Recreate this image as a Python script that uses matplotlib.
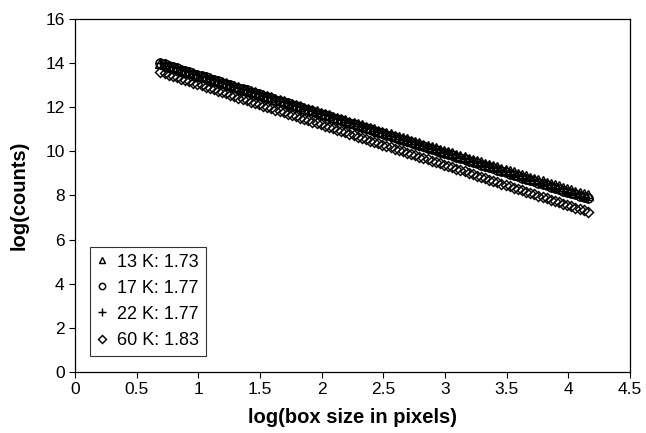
import matplotlib.pyplot as plt
import numpy as np

plt.rcParams['font.family'] = ['Liberation Sans', 'DejaVu Sans']

# box-counting fits: log(counts) = intercept - dimension * log(box size)
temps = ["13 K", "17 K", "22 K", "60 K"]
dimensions = [1.73, 1.77, 1.77, 1.83]
intercepts = [15.20, 15.23, 15.23, 14.87]
markers = ["^", "o", "+", "D"]
marker_sizes = [6.5, 6.5, 7.5, 5.2]

# box sizes from 2 to 64 pixels, 105 sizes on a log grid
box_min, box_max, n_boxes = 2, 64, 105
log_box = np.linspace(np.log(box_min), np.log(box_max), n_boxes)

fig = plt.figure(figsize=(6.46, 4.33), dpi=100)
ax = fig.add_axes([0.116, 0.141, 0.859, 0.815])

for t, d, b, m, ms in zip(temps, dimensions, intercepts, markers, marker_sizes):
    y = b - d * log_box
    ax.plot(log_box, y, linestyle="none", marker=m, markersize=ms,
            markerfacecolor="none", markeredgecolor="black",
            markeredgewidth=1.05, color="black", label=f"{t}: {d:.2f}")

ax.set_xlim(0, 4.5)
ax.set_ylim(0, 16)
ax.set_xticks(np.arange(0, 4.51, 0.5))
ax.set_xticklabels(["0", "0.5", "1", "1.5", "2", "2.5", "3", "3.5", "4", "4.5"])
ax.set_yticks(np.arange(0, 17, 2))
ax.tick_params(direction="out", length=4, width=0.8, labelsize=12.5,
               top=False, right=False)

for s in ax.spines.values():
    s.set_color("black")
    s.set_linewidth(0.9)

ax.set_xlabel("log(box size in pixels)", fontsize=14.5, fontweight="bold",
              labelpad=8)
ax.set_ylabel("log(counts)", fontsize=14.5, fontweight="bold", labelpad=12)

leg = ax.legend(loc="lower left", bbox_to_anchor=(0.027, 0.045),
                borderaxespad=0, fontsize=13, frameon=True, fancybox=False,
                edgecolor="black", handlelength=0.5, handletextpad=0.6,
                borderpad=0.4, labelspacing=0.5, markerscale=0.7)
leg.get_frame().set_linewidth(0.8)

fig.savefig("out.png", dpi=100)
